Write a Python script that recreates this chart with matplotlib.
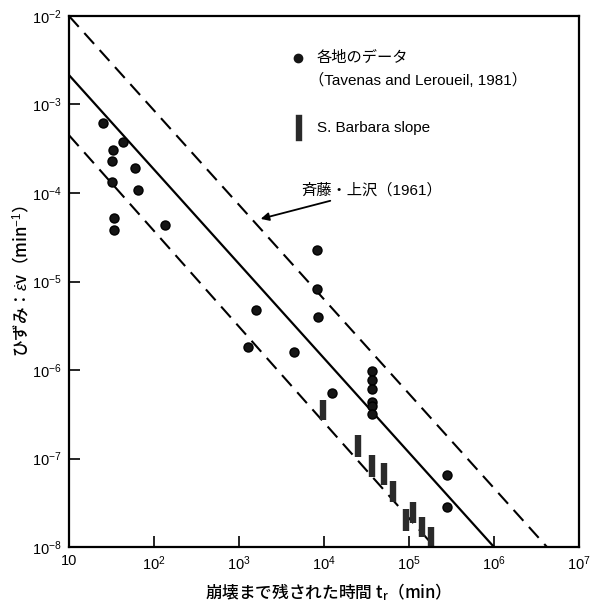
import math
import matplotlib
matplotlib.use("Agg")
import matplotlib.pyplot as plt
from matplotlib.ticker import FixedLocator, FuncFormatter, NullLocator

plt.rcParams['font.family'] = ['Liberation Sans', 'Noto Sans CJK JP', 'DejaVu Sans']
plt.rcParams['mathtext.fontset'] = 'custom'
plt.rcParams['mathtext.rm'] = 'Liberation Sans'
plt.rcParams['mathtext.it'] = 'Liberation Sans:italic'

# 各地のデータ (Tavenas and Leroueil, 1981)
tr_pts = [25, 43.5, 33, 32, 59, 32.3, 64, 34, 34, 136,
          8.2e3, 8.2e3, 8.4e3, 1.57e3, 1.28e3, 4.4e3, 1.23e4,
          3.7e4, 3.7e4, 3.7e4, 3.7e4, 3.7e4, 3.7e4, 2.8e5, 2.8e5]
ev_pts = [6.1e-4, 3.8e-4, 3.1e-4, 2.3e-4, 1.9e-4, 1.34e-4, 1.08e-4, 5.2e-5, 3.8e-5, 4.4e-5,
          2.27e-5, 8.2e-6, 4.0e-6, 4.8e-6, 1.8e-6, 1.58e-6, 5.5e-7,
          9.7e-7, 7.7e-7, 6.1e-7, 4.4e-7, 3.9e-7, 3.2e-7, 6.5e-8, 2.85e-8]

# S. Barbara slope (range bars)
sb_tr = [9.7e3, 2.5e4, 3.7e4, 5.1e4, 6.4e4, 9.2e4, 1.12e5, 1.41e5, 1.8e5]
sb_hi = [4.6e-7, 1.85e-7, 1.1e-7, 8.8e-8, 5.5e-8, 2.7e-8, 3.2e-8, 2.2e-8, 1.7e-8]
sb_lo = [2.7e-7, 1.05e-7, 6.2e-8, 5.0e-8, 3.2e-8, 1.5e-8, 1.85e-8, 1.3e-8, 1.0e-8]

# 斉藤・上沢 lines (end points)
mid_x, mid_y = [10, 1.0e6], [2.15e-3, 1e-8]
up_x, up_y = [10, 4.2e6], [1e-2, 1e-8]
lo_x, lo_y = [10, 2.0e5], [4.5e-4, 1e-8]

xticks = [1e1, 1e2, 1e3, 1e4, 1e5, 1e6, 1e7]
yticks = [1e-8, 1e-7, 1e-6, 1e-5, 1e-4, 1e-3, 1e-2]

fig = plt.figure(figsize=(6.03, 6.08), dpi=100)
ax = fig.add_axes([0.1144, 0.1003, 0.8458, 0.8734])
ax.set_xscale('log')
ax.set_yscale('log')
ax.set_xlim(1e1, 1e7)
ax.set_ylim(1e-8, 1e-2)

ax.plot(mid_x, mid_y, color='black', lw=1.6)
ax.plot(up_x, up_y, color='black', lw=1.5, linestyle=(0, (7, 4)))
ax.plot(lo_x, lo_y, color='black', lw=1.5, linestyle=(0, (7, 4)))

ax.plot(tr_pts, ev_pts, 'o', color='#151515', markersize=6.5, markeredgecolor='#000000')
ax.vlines(sb_tr, sb_lo, sb_hi, color='#2a2a2a', lw=4.6)

# legend
ax.plot([0.449], [0.921], 'o', color='#151515', markersize=6, transform=ax.transAxes, clip_on=False)
ax.text(0.486, 0.921, '各地のデータ', transform=ax.transAxes, fontsize=11, va='center')
ax.text(0.471, 0.879, '（Tavenas and Leroueil, 1981）', transform=ax.transAxes, fontsize=11,
        va='center', ha='left')
ax.plot([0.451, 0.451], [0.771, 0.807], color='#2a2a2a', lw=4.6, transform=ax.transAxes)
ax.text(0.486, 0.789, 'S. Barbara slope', transform=ax.transAxes, fontsize=11, va='center')

ax.annotate('斉藤・上沢（1961）', xy=(1.8e3, 5.1e-5), xytext=(5.4e3, 1.08e-4),
            fontsize=11, va='center', ha='left',
            arrowprops=dict(arrowstyle='-|>', color='black', lw=1.3, shrinkA=2, shrinkB=0,
                            mutation_scale=12))

def xfmt(v, pos):
    if abs(v - 10) < 1e-9:
        return '10'
    return r'$10^{%d}$' % int(round(math.log10(v)))

def yfmt(v, pos):
    return r'$10^{%d}$' % int(round(math.log10(v)))

ax.xaxis.set_major_locator(FixedLocator(xticks))
ax.yaxis.set_major_locator(FixedLocator(yticks))
ax.xaxis.set_minor_locator(NullLocator())
ax.yaxis.set_minor_locator(NullLocator())
ax.xaxis.set_major_formatter(FuncFormatter(xfmt))
ax.yaxis.set_major_formatter(FuncFormatter(yfmt))
ax.tick_params(direction='in', length=8, width=1.2, labelsize=10.5, pad=5)

for s in ax.spines.values():
    s.set_linewidth(1.6)

ax.set_xlabel('崩壊まで残された時間 t$_\\mathregular{r}$（min）', fontsize=12, labelpad=6,
              fontfamily='Noto Sans CJK JP', fontweight='medium')
ax.set_ylabel('ひずみ：$\\dot{\\varepsilon}$v（min$^{-1}$）', fontsize=12, labelpad=1,
              fontfamily='Noto Sans CJK JP', fontweight='medium')

fig.savefig('out.png', dpi=100)
